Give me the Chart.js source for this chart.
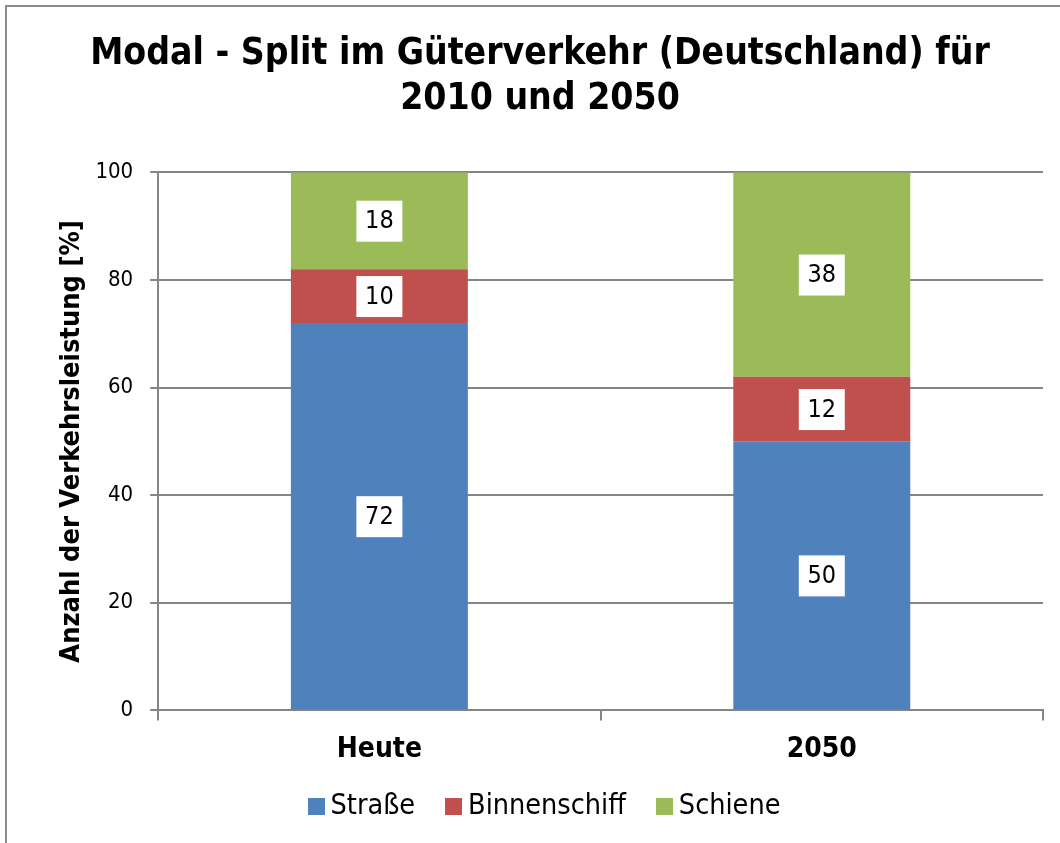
<!DOCTYPE html>
<html>
<head>
<meta charset="utf-8">
<script src="https://cdn.jsdelivr.net/npm/chart.js@4/dist/chart.umd.min.js"></script>
<style>
  body { margin: 0; background: #fff; width: 1060px; height: 843px; overflow: hidden; position: relative;
         font-family: "DejaVu Sans Condensed", "DejaVu Sans", sans-serif; }
  #wrap { position: absolute; left: 0; top: 0; width: 1080px; height: 843px; }
  .frame-l { position: absolute; left: 5px; top: 5px; width: 2px; height: 838px; background: #8c8c8c; }
  .frame-t { position: absolute; left: 5px; top: 5px; width: 1055px; height: 2px; background: #8c8c8c; }
  #legend { position: absolute; left: 4px; top: 788px; width: 1080px; text-align: center; font-size: 28.5px; color: #000; }
  .item { display: inline-block; margin: 0 15px; }
  .box { display: inline-block; width: 17px; height: 17px; margin-right: 6px; vertical-align: -1px; }
</style>
</head>
<body>
<div class="frame-l"></div>
<div class="frame-t"></div>
<div id="wrap"><canvas id="chart" width="1080" height="843"></canvas></div>
<div id="legend"></div>
<script>
const categories = ["Heute", "2050"];
const seriesNames = ["Straße", "Binnenschiff", "Schiene"];
const strasse = [72, 50];
const binnenschiff = [10, 12];
const schiene = [18, 38];
const yTicks = [0, 20, 40, 60, 80, 100];

const BLUE = "#4f81bd";
const RED = "#c0504d";
const GREEN = "#9bbb59";
const GRID = "#868686";
const FONT = "'DejaVu Sans Condensed', 'DejaVu Sans', sans-serif";

Chart.defaults.font.family = FONT;
Chart.defaults.color = "#000";

// white boxes with the value in the middle of each segment
const valueBoxes = {
  id: "valueBoxes",
  afterDatasetsDraw: function (chart) {
    let ctx = chart.ctx;
    ctx.save();
    ctx.font = "25px " + FONT;
    ctx.textAlign = "center";
    ctx.textBaseline = "middle";
    chart.data.datasets.forEach(function (ds, d) {
      let meta = chart.getDatasetMeta(d);
      meta.data.forEach(function (bar, i) {
        let cy = (bar.y + bar.base) / 2;
        ctx.fillStyle = "#fff";
        ctx.fillRect(bar.x - 23, cy - 20, 46, 41);
        ctx.fillStyle = "#000";
        ctx.fillText(String(ds.data[i]), bar.x, cy + 1);
      });
    });
    ctx.restore();
  }
};

new Chart(document.getElementById("chart"), {
  type: "bar",
  data: {
    labels: categories,
    datasets: [
      { label: seriesNames[0], data: strasse, backgroundColor: BLUE },
      { label: seriesNames[1], data: binnenschiff, backgroundColor: RED },
      { label: seriesNames[2], data: schiene, backgroundColor: GREEN }
    ]
  },
  options: {
    responsive: false,
    animation: false,
    events: [],
    categoryPercentage: 1,
    barPercentage: 0.4,
    layout: { padding: { left: 37, right: 37, top: 32, bottom: 63 } },
    plugins: {
      legend: { display: false },
      tooltip: { enabled: false },
      title: {
        display: true,
        text: ["Modal - Split im Güterverkehr (Deutschland) für", "2010 und 2050"],
        font: { size: 37, weight: "bold", lineHeight: 1.22 },
        color: "#000",
        padding: { top: 0, bottom: 50 }
      }
    },
    scales: {
      x: {
        stacked: true,
        grid: { drawOnChartArea: false, color: GRID, lineWidth: 2, tickLength: 10 },
        border: { color: GRID, width: 2 },
        ticks: { font: { size: 28, weight: "bold" }, padding: 13 }
      },
      y: {
        stacked: true,
        min: 0,
        max: 100,
        afterBuildTicks: function (axis) {
          axis.ticks = yTicks.map(function (v) { return { value: v }; });
        },
        grid: { color: GRID, lineWidth: 2, tickLength: 8 },
        border: { color: GRID, width: 2 },
        ticks: { font: { size: 22 }, padding: 17 },
        title: {
          display: true,
          text: "Anzahl der Verkehrsleistung [%]",
          font: { size: 27, weight: "bold" },
          padding: { top: 19, bottom: -10 }
        }
      }
    }
  },
  plugins: [valueBoxes]
});

let colors = [BLUE, RED, GREEN];
let html = "";
for (let i = 0; i < seriesNames.length; i++) {
  html += "<span class='item'><span class='box' style='background:" + colors[i] + "'></span>" + seriesNames[i] + "</span>";
}
document.getElementById("legend").innerHTML = html;
</script>
</body>
</html>
